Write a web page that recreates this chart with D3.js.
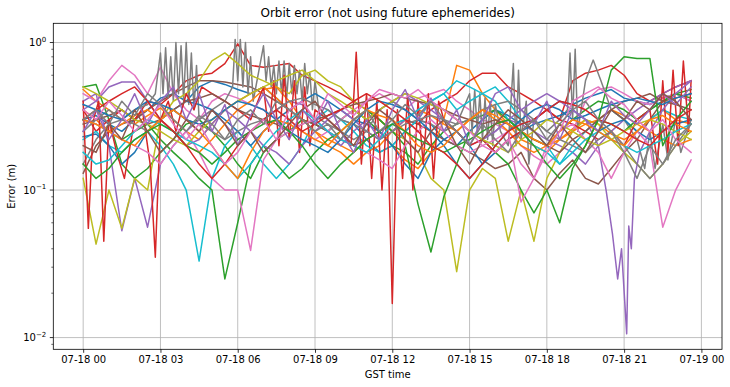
<!DOCTYPE html>
<html><head><meta charset="utf-8">
<script src="https://cdn.jsdelivr.net/npm/d3@7"></script>
<style>body{margin:0;background:#fff}svg{display:block;font-family:"DejaVu Sans",sans-serif}</style>
</head><body><svg id="c" width="730" height="387"></svg>
<script>
// ---------- data ----------
const hours = [0,0.5,1,1.5,2,2.5,3,3.5,4,4.5,5,5.5,6,6.5,7,7.5,8,8.5,9,9.5,10,10.5,11,11.5,
  12,12.5,13,13.5,14,14.5,15,15.5,16,16.5,17,17.5,18,18.5,19,19.5,20,20.5,21,21.5,22,22.5,23,23.6];
const xTickHours = [0,3,6,9,12,15,18,21,24];
const xTickLabels = ["07-18 00","07-18 03","07-18 06","07-18 09","07-18 12","07-18 15","07-18 18","07-18 21","07-19 00"];
const yTickValues = [0.01,0.1,1];
const yTickExp = ["\u22122","\u22121","0"];

const blue0 = [0.30,0.32,0.28,0.25,0.30,0.35,0.42,0.45, 0.40,0.50,0.55,0.52,0.48,0.45,0.50,0.42, 0.35,0.30,0.28,0.25,0.30,0.28,0.22,0.18, 0.20,0.25,0.30,0.28,0.22,0.20,0.25,0.30, 0.35,0.32,0.28,0.30,0.35,0.40,0.38,0.42, 0.45,0.48,0.42,0.40,0.38,0.42,0.45,0.40];
const orange1 = [0.48,0.40,0.35,0.30,0.28,0.32,0.36,0.30, 0.25,0.22,0.28,0.35,0.40,0.45,0.50,0.42, 0.35,0.30,0.25,0.22,0.20,0.18,0.22,0.25, 0.20,0.16,0.14,0.18,0.30,0.70,0.65,0.45, 0.35,0.28,0.22,0.20,0.18,0.22,0.26,0.30, 0.28,0.24,0.22,0.25,0.30,0.35,0.30,0.28];
const green2 = [0.50,0.52,0.30,0.15,0.12,0.14,0.18,0.22, 0.28,0.30,0.25,0.20,0.15,0.12,0.18,0.22, 0.25,0.30,0.28,0.25,0.30,0.35,0.30,0.25, 0.20,0.18,0.15,0.20,0.25,0.28,0.30,0.32, 0.35,0.30,0.25,0.22,0.20,0.25,0.30,0.35, 0.40,0.38,0.35,0.30,0.35,0.40,0.45,0.48];
const red3 = [0.35,0.25,0.30,0.35,0.30,0.40,0.38,0.45, 0.55,0.60,0.62,0.72,0.98,0.70,0.68,0.70, 0.72,0.60,0.55,0.50,0.45,0.40,0.35,0.30, 0.25,0.30,0.28,0.35,0.40,0.45,0.55,0.62, 0.62,0.50,0.45,0.40,0.35,0.30,0.55,0.62, 0.65,0.70,0.60,0.45,0.40,0.45,0.50,0.55];
const purple4 = [0.40,0.45,0.20,0.053,0.12,0.056,0.15,0.20, 0.25,0.30,0.35,0.28,0.22,0.25,0.30,0.35, 0.40,0.38,0.30,0.25,0.20,0.25,0.30,0.35, 0.40,0.45,0.40,0.35,0.30,0.25,0.20,0.22, 0.25,0.30,0.28,0.25,0.22,0.20,0.18,0.15, 0.20,0.25,0.30,0.35,0.40,0.45,0.50,0.55];
const brown5 = [0.13,0.20,0.25,0.28,0.30,0.35,0.40,0.45, 0.50,0.55,0.55,0.54,0.52,0.50,0.45,0.40, 0.35,0.30,0.28,0.25,0.22,0.20,0.22,0.25, 0.28,0.30,0.28,0.25,0.22,0.20,0.18,0.16, 0.14,0.15,0.18,0.12,0.10,0.13,0.16,0.12, 0.11,0.14,0.18,0.22,0.30,0.40,0.42,0.45];
const pink6 = [0.45,0.40,0.55,0.70,0.60,0.45,0.68,0.45, 0.35,0.30,0.40,0.45,0.42,0.38,0.35,0.30, 0.28,0.25,0.22,0.25,0.30,0.35,0.40,0.45, 0.40,0.35,0.42,0.45,0.48,0.40,0.35,0.30, 0.28,0.25,0.20,0.17,0.15,0.18,0.25,0.40, 0.48,0.50,0.45,0.40,0.38,0.42,0.45,0.40];
const gray7Hours = [0,0.5,1,1.5,2,2.5,2.8,
  3.0,3.1,3.2,3.3,3.4,3.5,3.6,3.7,3.8,3.9,4.0,4.1,4.2,4.3,4.4,4.5,
  5,5.5,5.8,5.9,6.0,6.1,6.2,6.3,6.4,6.5,6.6,
  7.0,7.1,7.2,7.3,7.4,7.5,7.6,7.7,7.8,7.9,8.0,8.1,8.2,8.3,8.4,8.5,8.6,8.7,8.8,8.9,9.0,9.2,
  9.5,10,10.5,11,11.5,12,12.5,13,13.5,14,14.5,
  15,15.1,15.2,15.3,15.4,15.5,15.6,15.7,15.8,15.9,16.0,16.2,16.5,16.7,16.8,16.9,17.0,17.2,17.3,17.5,
  18,18.5,18.8,18.9,19.0,19.1,19.2,19.5,19.8,20.1,20.5,21,21.5,21.8,22,22.2,22.5,22.7,23,23.2,23.6];
const gray7 = [0.15,0.22,0.28,0.30,0.35,0.38,0.45,
  0.85,0.45,0.92,0.42,0.80,0.40,1.00,0.45,0.95,0.40,1.00,0.38,0.85,0.35,0.70,0.30,
  0.35,0.40,0.50,1.05,0.55,1.05,0.50,1.00,0.45,0.80,0.40,
  0.95,0.55,0.80,0.50,0.70,0.45,0.75,0.45,0.75,0.42,0.72,0.45,0.70,0.45,0.65,0.40,0.72,0.45,0.62,0.35,0.55,0.30,
  0.28,0.25,0.22,0.25,0.35,0.40,0.35,0.30,0.28,0.25,0.28,
  0.45,0.25,0.48,0.25,0.45,0.22,0.42,0.22,0.40,0.20,0.38,0.25,0.20,0.72,0.20,0.65,0.22,0.40,0.15,0.30,
  0.25,0.30,0.35,0.85,0.30,0.90,0.25,0.55,0.76,0.55,0.35,0.30,0.22,0.14,0.25,0.14,0.28,0.16,0.30,0.18,0.30];
const olive8 = [0.12,0.043,0.10,0.055,0.12,0.10,0.30,0.40, 0.45,0.55,0.75,0.85,0.72,0.60,0.55,0.50, 0.45,0.60,0.65,0.55,0.50,0.40,0.35,0.30, 0.25,0.22,0.18,0.12,0.10,0.028,0.10,0.14, 0.12,0.045,0.10,0.045,0.12,0.18,0.25,0.30, 0.28,0.22,0.18,0.15,0.12,0.15,0.20,0.25];
const cyan9 = [0.22,0.25,0.20,0.18,0.22,0.25,0.20,0.15, 0.10,0.033,0.12,0.20,0.25,0.20,0.15,0.12, 0.15,0.20,0.30,0.35,0.30,0.25,0.20,0.18, 0.20,0.25,0.30,0.40,0.45,0.35,0.40,0.45, 0.50,0.40,0.30,0.25,0.20,0.15,0.20,0.25, 0.30,0.35,0.30,0.25,0.30,0.35,0.32,0.30];
const blue10 = [0.23,0.24,0.20,0.15,0.18,0.25,0.30,0.35, 0.40,0.38,0.35,0.30,0.25,0.20,0.25,0.30, 0.35,0.40,0.45,0.40,0.35,0.30,0.28,0.25, 0.20,0.15,0.12,0.18,0.22,0.25,0.20,0.15, 0.18,0.22,0.25,0.28,0.30,0.32,0.35,0.30, 0.25,0.28,0.30,0.25,0.22,0.25,0.28,0.30];
const orange11 = [0.35,0.30,0.25,0.28,0.32,0.35,0.30,0.25, 0.20,0.18,0.22,0.28,0.35,0.40,0.48,0.50, 0.40,0.30,0.25,0.20,0.18,0.15,0.18,0.20, 0.25,0.30,0.35,0.32,0.28,0.25,0.30,0.35, 0.30,0.25,0.20,0.18,0.20,0.22,0.25,0.28, 0.30,0.35,0.32,0.28,0.25,0.22,0.20,0.22];
const green12 = [0.30,0.28,0.25,0.22,0.25,0.28,0.22,0.18, 0.15,0.12,0.10,0.025,0.06,0.15,0.20,0.15, 0.12,0.14,0.18,0.22,0.25,0.30,0.35,0.30, 0.25,0.20,0.08,0.038,0.09,0.15,0.25,0.22, 0.18,0.15,0.10,0.07,0.10,0.06,0.14,0.20, 0.30,0.28,0.25,0.30,0.35,0.40,0.45,0.42];
const red13Hours = [0,0.2,0.4,0.6,0.8,1.0,1.3,1.6,2.0,2.3,2.6,2.8,3.0,3.3,3.6,4.0,4.3,4.6,5,5.5,6,6.5,
  7,7.2,7.4,7.6,7.8,8.0,8.2,8.4,8.6,8.8,9,9.5,10,10.4,10.6,10.8,11.0,11.2,11.4,11.6,11.8,12.0,12.2,12.4,12.6,12.8,13.0,13.2,13.4,13.6,13.8,
  14,14.5,15,15.5,16,16.5,17,17.5,18,18.5,19,19.5,20,20.5,21,21.5,22,22.3,22.5,22.7,22.9,23.1,23.3,23.5,23.6];
const red13 = [0.40,0.055,0.30,0.40,0.045,0.30,0.18,0.12,0.30,0.35,0.15,0.035,0.30,0.40,0.25,0.45,0.35,0.50,0.45,0.40,0.35,0.30,
  0.50,0.25,0.55,0.20,0.60,0.22,0.55,0.18,0.50,0.20,0.35,0.30,0.25,0.20,0.86,0.15,0.45,0.12,0.40,0.10,0.35,0.017,0.35,0.12,0.45,0.10,0.40,0.15,0.45,0.12,0.40,
  0.30,0.25,0.20,0.22,0.18,0.22,0.25,0.30,0.35,0.30,0.28,0.25,0.22,0.25,0.20,0.30,0.35,0.15,0.55,0.18,0.65,0.20,0.75,0.25,0.55];
const purple14Hours = [0,0.5,1,1.5,2,2.5,3,3.5,4,4.5,5,5.5,6,6.5,7,7.5,8,8.5,9,9.5,10,10.5,11,11.5,12,12.5,13,13.5,14,14.5,15,15.5,16,16.5,17,17.5,18,18.5,19,19.5,
  20,20.3,20.55,20.75,20.9,21.1,21.18,21.28,21.4,21.6,22,22.5,23,23.6];
const purple14 = [0.35,0.40,0.50,0.54,0.54,0.40,0.30,0.25,0.20,0.22,0.28,0.35,0.30,0.25,0.20,0.18,0.15,0.20,0.25,0.30,0.35,0.30,0.25,0.22,0.25,0.30,0.35,0.40,0.35,0.30,0.25,0.22,0.25,0.30,0.35,0.40,0.45,0.40,0.35,0.30,
  0.20,0.10,0.05,0.025,0.04,0.0106,0.057,0.04,0.12,0.18,0.25,0.35,0.45,0.55];
const brown15 = [0.28,0.30,0.32,0.35,0.30,0.28,0.30,0.35, 0.40,0.42,0.45,0.40,0.35,0.32,0.30,0.28, 0.25,0.28,0.30,0.32,0.35,0.38,0.40,0.42, 0.45,0.42,0.40,0.38,0.35,0.32,0.30,0.28, 0.30,0.28,0.25,0.22,0.20,0.18,0.22,0.25, 0.30,0.35,0.40,0.42,0.45,0.40,0.38,0.35];
const pink16 = [0.30,0.28,0.25,0.22,0.20,0.18,0.15,0.20, 0.25,0.18,0.12,0.10,0.10,0.039,0.16,0.22, 0.25,0.28,0.30,0.25,0.22,0.20,0.18,0.16, 0.14,0.20,0.25,0.30,0.25,0.20,0.18,0.20, 0.22,0.25,0.083,0.12,0.20,0.25,0.28,0.22, 0.18,0.12,0.18,0.25,0.20,0.056,0.10,0.16];
const gray17 = [0.25,0.30,0.35,0.30,0.28,0.25,0.30,0.35, 0.30,0.28,0.25,0.22,0.25,0.28,0.30,0.35, 0.40,0.42,0.38,0.35,0.30,0.28,0.25,0.22, 0.25,0.28,0.30,0.32,0.30,0.28,0.30,0.35, 0.38,0.40,0.35,0.30,0.25,0.22,0.20,0.18, 0.22,0.25,0.20,0.15,0.12,0.15,0.20,0.28];
const olive18 = [0.50,0.45,0.40,0.35,0.30,0.28,0.25,0.22, 0.20,0.25,0.30,0.35,0.40,0.45,0.50,0.55, 0.60,0.65,0.55,0.45,0.40,0.35,0.30,0.35, 0.40,0.45,0.42,0.38,0.35,0.30,0.25,0.22, 0.20,0.18,0.22,0.25,0.30,0.28,0.25,0.22, 0.20,0.22,0.25,0.28,0.30,0.28,0.25,0.22];
const cyan19 = [0.18,0.15,0.16,0.20,0.25,0.30,0.28,0.25, 0.22,0.20,0.18,0.15,0.12,0.15,0.20,0.25, 0.30,0.35,0.30,0.25,0.22,0.20,0.18,0.22, 0.28,0.30,0.35,0.40,0.45,0.55,0.50,0.45, 0.40,0.30,0.25,0.20,0.18,0.15,0.18,0.22, 0.25,0.22,0.20,0.18,0.20,0.22,0.25,0.28];
const blue20 = [0.38,0.35,0.32,0.30,0.35,0.40,0.38,0.35, 0.30,0.28,0.30,0.35,0.40,0.38,0.35,0.30, 0.25,0.22,0.20,0.18,0.22,0.28,0.35,0.40, 0.38,0.35,0.30,0.25,0.20,0.15,0.12,0.15, 0.20,0.25,0.30,0.35,0.38,0.35,0.30,0.32, 0.35,0.38,0.40,0.42,0.40,0.38,0.42,0.45];
const orange21 = [0.30,0.28,0.25,0.22,0.20,0.25,0.30,0.35, 0.30,0.25,0.20,0.15,0.12,0.18,0.25,0.30, 0.28,0.25,0.22,0.20,0.25,0.30,0.35,0.32, 0.30,0.25,0.20,0.18,0.20,0.25,0.30,0.35, 0.32,0.28,0.25,0.22,0.20,0.25,0.30,0.28, 0.25,0.22,0.20,0.25,0.30,0.32,0.28,0.25];
const green22 = [0.15,0.12,0.14,0.18,0.22,0.25,0.28,0.25, 0.20,0.18,0.15,0.18,0.22,0.25,0.28,0.30, 0.25,0.20,0.15,0.12,0.15,0.18,0.22,0.25, 0.28,0.25,0.22,0.20,0.18,0.20,0.22,0.25, 0.28,0.30,0.25,0.20,0.15,0.12,0.15,0.20, 0.30,0.65,0.80,0.78,0.78,0.20,0.30,0.40];
const red23 = [0.30,0.35,0.40,0.45,0.50,0.40,0.30,0.25, 0.20,0.15,0.12,0.15,0.20,0.25,0.30,0.35, 0.30,0.25,0.28,0.32,0.35,0.40,0.45,0.40, 0.35,0.30,0.25,0.20,0.18,0.15,0.12,0.15, 0.20,0.25,0.28,0.30,0.35,0.40,0.38,0.35, 0.30,0.28,0.25,0.22,0.20,0.25,0.30,0.35];
const purple24 = [0.25,0.35,0.22,0.30,0.45,0.28,0.40,0.50, 0.30,0.45,0.25,0.38,0.20,0.32,0.45,0.30, 0.22,0.35,0.28,0.40,0.25,0.18,0.30,0.22, 0.35,0.48,0.30,0.42,0.25,0.35,0.20,0.30, 0.45,0.50,0.35,0.28,0.40,0.22,0.35,0.30, 0.25,0.40,0.32,0.28,0.35,0.45,0.38,0.50];
const brown25 = [0.20,0.18,0.28,0.22,0.35,0.25,0.18,0.22, 0.30,0.25,0.35,0.28,0.20,0.25,0.18,0.22, 0.28,0.35,0.40,0.30,0.25,0.20,0.28,0.35, 0.30,0.22,0.18,0.25,0.30,0.20,0.15,0.22, 0.28,0.35,0.30,0.25,0.20,0.28,0.22,0.18, 0.25,0.35,0.30,0.40,0.35,0.45,0.40,0.30];
const pink26 = [0.35,0.30,0.40,0.32,0.25,0.30,0.38,0.28, 0.22,0.28,0.20,0.15,0.18,0.25,0.30,0.22, 0.35,0.40,0.30,0.45,0.38,0.32,0.40,0.48, 0.45,0.42,0.48,0.40,0.35,0.30,0.25,0.20, 0.18,0.22,0.15,0.12,0.18,0.25,0.40,0.45, 0.50,0.42,0.38,0.30,0.25,0.30,0.22,0.18];
const gray27 = [0.30,0.35,0.28,0.40,0.32,0.45,0.38,0.30, 0.25,0.32,0.28,0.22,0.30,0.35,0.28,0.40, 0.35,0.30,0.25,0.28,0.22,0.30,0.35,0.25, 0.30,0.38,0.32,0.40,0.30,0.25,0.20,0.28, 0.22,0.18,0.25,0.30,0.22,0.28,0.35,0.40, 0.30,0.25,0.18,0.12,0.20,0.15,0.22,0.28];

const palette = ["#1f77b4","#ff7f0e","#2ca02c","#d62728","#9467bd","#8c564b","#e377c2","#7f7f7f","#bcbd22","#17becf"];

const seriesList = [
  [hours, blue0],[hours, orange1],[hours, green2],[hours, red3],[hours, purple4],
  [hours, brown5],[hours, pink6],[gray7Hours, gray7],[hours, olive8],[hours, cyan9],
  [hours, blue10],[hours, orange11],[hours, green12],[red13Hours, red13],[purple14Hours, purple14],
  [hours, brown15],[hours, pink16],[hours, gray17],[hours, olive18],[hours, cyan19],
  [hours, blue20],[hours, orange21],[hours, green22],[hours, red23],
  [hours, purple24],[hours, brown25],[hours, pink26],[hours, gray27]
];

// ---------- chart ----------
const L = 53.3, R = 722, T = 23.3, B = 349.3;
const svg = d3.select("#c");
svg.append("rect").attr("width",730).attr("height",387).attr("fill","#fff");

const x = d3.scaleLinear().domain([-1.16, 24.8]).range([L, R]);
const y = d3.scaleLog().domain([0.00833, 1.35]).range([B, T]);

// grid
const grid = svg.append("g");
xTickHours.forEach(h => grid.append("line").attr("x1",x(h)).attr("x2",x(h)).attr("y1",T).attr("y2",B)
  .attr("stroke","#b0b0b0").attr("stroke-width",0.8));
yTickValues.forEach(v => grid.append("line").attr("x1",L).attr("x2",R).attr("y1",y(v)).attr("y2",y(v))
  .attr("stroke","#b0b0b0").attr("stroke-width",0.8));

// lines
svg.append("clipPath").attr("id","clip").append("rect").attr("x",L).attr("y",T).attr("width",R-L).attr("height",B-T);
const line = d3.line().x(d => x(d[0])).y(d => y(d[1]));
const lg = svg.append("g").attr("clip-path","url(#clip)");
seriesList.forEach((s, i) => {
  const pts = s[0].map((t, k) => [t, s[1][k]]).filter(d => d[1] !== undefined);
  lg.append("path").attr("d", line(pts)).attr("fill","none")
    .attr("stroke", palette[i % 10]).attr("stroke-width",1.5)
    .attr("stroke-linejoin","round").attr("stroke-linecap","square");
});

// x axis
const xAxis = d3.axisBottom(x).tickValues(xTickHours).tickSize(3.5).tickPadding(3.5)
  .tickFormat((d,i) => xTickLabels[i]);
const gx = svg.append("g").attr("transform",`translate(0,${B})`).call(xAxis);
gx.select(".domain").remove();
gx.selectAll("line").attr("stroke","#000").attr("stroke-width",0.8);
gx.selectAll("text").attr("font-size",10).attr("fill","#000").attr("font-family","DejaVu Sans");

// y axis: minor ticks
const minor = [];
[0.001,0.01,0.1,1].forEach(dec => { for (let k=2;k<=9;k++){ const v=dec*k; if (v>0.00833 && v<1.35) minor.push(v);} });
const ay = svg.append("g");
minor.forEach(v => ay.append("line").attr("x1",L-2).attr("x2",L).attr("y1",y(v)).attr("y2",y(v))
  .attr("stroke","#000").attr("stroke-width",0.6));
yTickValues.forEach((v,i) => {
  ay.append("line").attr("x1",L-3.5).attr("x2",L).attr("y1",y(v)).attr("y2",y(v)).attr("stroke","#000").attr("stroke-width",0.8);
  const t = ay.append("text").attr("x",L-7).attr("y",y(v)+3.5).attr("text-anchor","end")
    .attr("font-size",10).attr("fill","#000");
  t.append("tspan").text("10");
  t.append("tspan").attr("font-size",7).attr("dy",-4.5).text(yTickExp[i]);
});

// frame
svg.append("rect").attr("x",L).attr("y",T).attr("width",R-L).attr("height",B-T)
  .attr("fill","none").attr("stroke","#000").attr("stroke-width",0.8);

// labels
svg.append("text").attr("x",(L+R)/2).attr("y",17).attr("text-anchor","middle").attr("font-size",12)
  .text("Orbit error (not using future ephemerides)");
svg.append("text").attr("x",(L+R)/2).attr("y",378).attr("text-anchor","middle").attr("font-size",10).text("GST time");
svg.append("text").attr("transform",`translate(15,${(T+B)/2}) rotate(-90)`).attr("text-anchor","middle")
  .attr("font-size",10).text("Error (m)");
</script></body></html>
